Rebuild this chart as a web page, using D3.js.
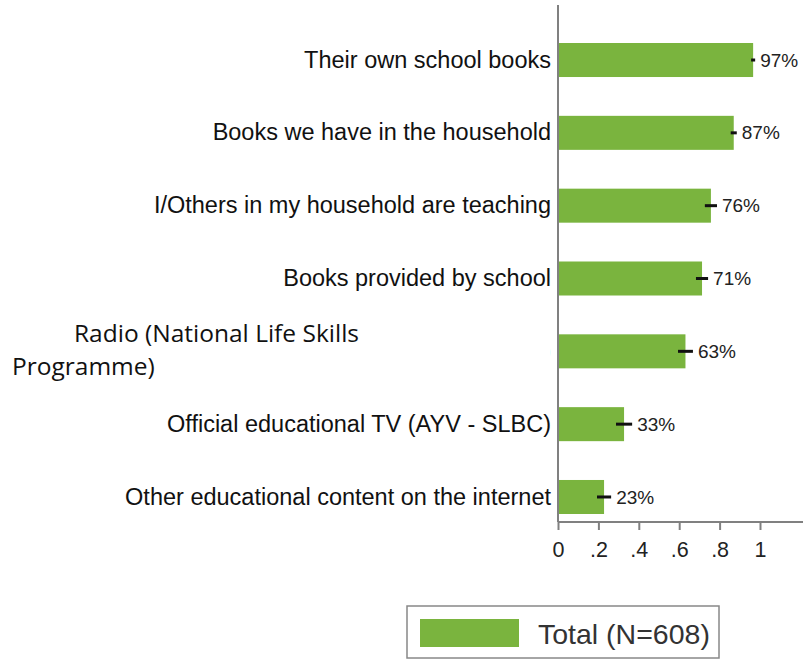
<!DOCTYPE html>
<html><head><meta charset="utf-8">
<script src="https://cdn.jsdelivr.net/npm/d3@7"></script>
<style>body{margin:0;background:#fff}svg{display:block}</style>
</head><body>
<svg id="c" width="803" height="660"></svg>
<script>
const categories = ["Their own school books","Books we have in the household","I/Others in my household are teaching","Books provided by school","Radio (National Life Skills Programme)","Official educational TV (AYV - SLBC)","Other educational content on the internet"];
const values = [0.966, 0.87, 0.757, 0.713, 0.631, 0.327, 0.228];
const ciHalf = [0.01, 0.015, 0.03, 0.03, 0.037, 0.04, 0.035];
const xTicks = [0, 0.2, 0.4, 0.6, 0.8, 1];
const xTickLabels = ["0", ".2", ".4", ".6", ".8", "1"];
const legendLabel = "Total (N=608)";

const FONT = "'Liberation Sans', Arial, sans-serif";
const svg = d3.select("#c");
const x = d3.scaleLinear().domain([0, 1]).range([558, 760]);
const y = d3.scaleBand().domain(categories).range([23.6, 533.4]).paddingInner(0.533).paddingOuter(0.2665);
const green = "#7ab43e";

// bars
svg.selectAll("rect.bar").data(values).join("rect").attr("class","bar")
  .attr("x", x(0)).attr("y", (d,i)=>y(categories[i]))
  .attr("width", d=>x(d)-x(0)).attr("height", y.bandwidth()).attr("fill", green);

// error bars
svg.selectAll("line.ci").data(values).join("line").attr("class","ci")
  .attr("x1",(d,i)=>x(d-ciHalf[i])).attr("x2",(d,i)=>x(d+ciHalf[i]))
  .attr("y1",(d,i)=>y(categories[i])+y.bandwidth()/2).attr("y2",(d,i)=>y(categories[i])+y.bandwidth()/2)
  .attr("stroke","#111").attr("stroke-width",3);

// value labels
svg.selectAll("text.val").data(values).join("text").attr("class","val")
  .attr("x",(d,i)=>x(d+ciHalf[i])+5).attr("y",(d,i)=>y(categories[i])+y.bandwidth()/2)
  .attr("dy","0.35em").attr("font-family",FONT)
  .attr("font-size",19).attr("fill","#222").text(d=>Math.round(d*100)+"%");

// y axis line
svg.append("line").attr("x1",x(0)).attr("x2",x(0)).attr("y1",5).attr("y2",522)
  .attr("stroke","#808080").attr("stroke-width",2);

// category labels
const yAxis = svg.append("g").attr("transform",`translate(${x(0)},0)`)
  .call(d3.axisLeft(y).tickSize(0).tickPadding(7));
yAxis.select(".domain").remove();
yAxis.selectAll("text").attr("font-family",FONT)
  .attr("font-size",23.5).attr("fill","#111")
  .text(d => d === categories[4] ? "" : d);
// remnant of original radio label
svg.append("clipPath").attr("id","cl").append("rect")
  .attr("x",550).attr("y",0).attr("width",8).attr("height",660);
svg.append("text").attr("clip-path","url(#cl)").attr("x",x(0)-7)
  .attr("y",y(categories[4])+y.bandwidth()/2).attr("dy","0.32em").attr("text-anchor","end")
  .attr("font-family",FONT).attr("font-size",23.5).attr("fill","#222").text(")");
// overlay radio label
const rl = svg.append("text").attr("font-family","'Open Sans', sans-serif").attr("font-size",24.5).attr("fill","#111");
rl.append("tspan").attr("x",74).attr("y",342).text("Radio (National Life Skills");
rl.append("tspan").attr("x",12).attr("y",375).text("Programme)");

// x axis
const xAxis = svg.append("g").attr("transform","translate(0,522)")
  .call(d3.axisBottom(x).tickValues(xTicks).tickFormat((d,i)=>xTickLabels[i]).tickSize(8).tickPadding(12));
xAxis.select(".domain").attr("d","M558,0H803").attr("stroke","#808080").attr("stroke-width",2);
xAxis.selectAll(".tick line").attr("stroke","#808080").attr("stroke-width",2);
xAxis.selectAll("text").attr("font-family",FONT).attr("font-size",21.5).attr("fill","#222");

// legend
svg.append("rect").attr("x",407).attr("y",606).attr("width",312).attr("height",52)
  .attr("fill","#fff").attr("stroke","#888").attr("stroke-width",1.5);
svg.append("rect").attr("x",420).attr("y",619).attr("width",99).attr("height",28).attr("fill",green);
svg.append("text").attr("x",538).attr("y",644).attr("font-family",FONT)
  .attr("font-size",28.5).attr("fill","#333").text(legendLabel);
</script>
</body></html>
